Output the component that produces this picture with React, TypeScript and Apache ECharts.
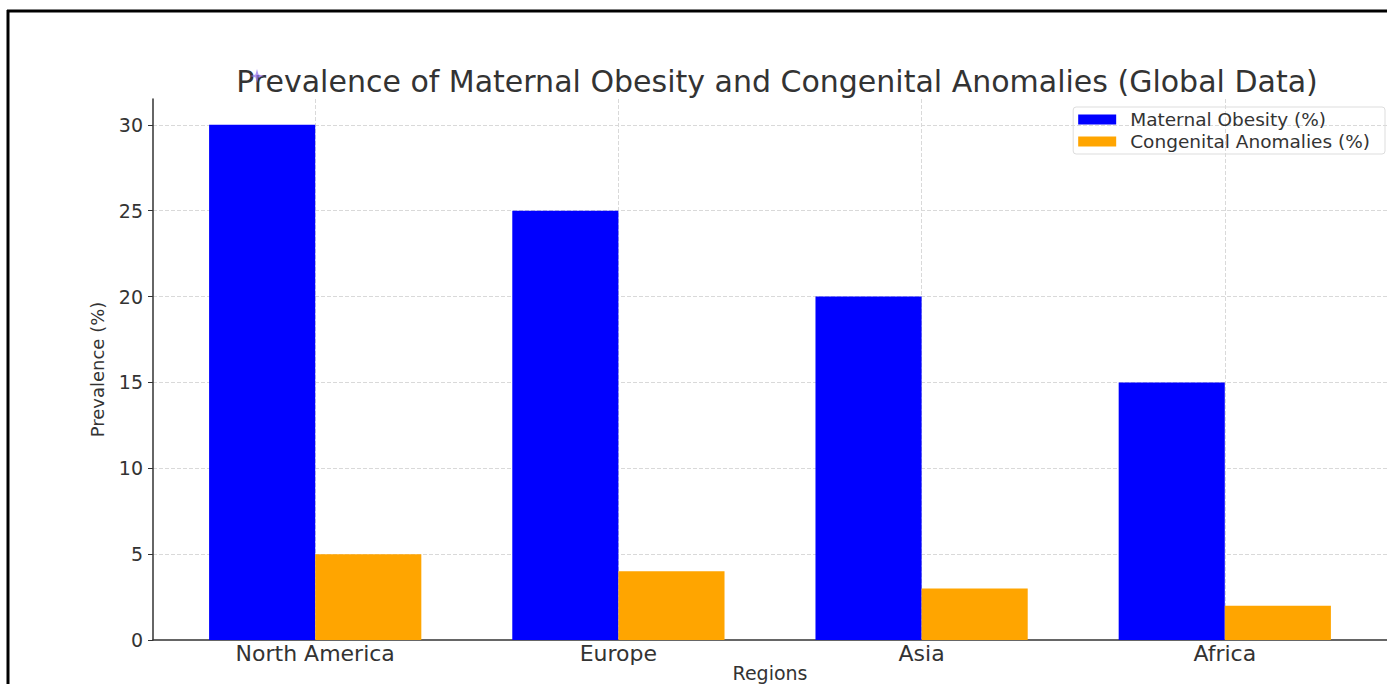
import React, { useEffect, useRef } from "react";
import * as echarts from "echarts";

const categories = ["North America", "Europe", "Asia", "Africa"];
const obesity = [30, 25, 20, 15];
const anomalies = [5, 4, 3, 2];
const seriesNames = ["Maternal Obesity (%)", "Congenital Anomalies (%)"];
const titleText = "Prevalence of Maternal Obesity and Congenital Anomalies (Global Data)";
const FONT = "DejaVu Sans";

export default function App() {
  const ref = useRef<HTMLDivElement>(null);
  useEffect(() => {
    document.body.style.margin = "0";
    const chart = echarts.init(ref.current!, null, { renderer: "svg" });
    const n = categories.length;
    const pad = 0.35 + 0.05 * (n - 1 + 0.7);
    chart.setOption({
      animation: false,
      backgroundColor: "#ffffff",
      title: {
        text: titleText,
        left: 772,
        textAlign: "center",
        top: 61,
        textStyle: { fontFamily: FONT, fontSize: 30, fontWeight: "normal", color: "#333" },
      },
      legend: {
        orient: "vertical",
        right: 2,
        top: 107,
        icon: "rect",
        itemWidth: 38,
        itemHeight: 10,
        itemGap: 3,
        padding: [3, 15, 3, 5],
        borderColor: "#ddd",
        borderWidth: 1,
        borderRadius: 3,
        textStyle: { fontFamily: FONT, fontSize: 18.5, lineHeight: 19, color: "#333", padding: [0, 0, 0, 9] },
        data: seriesNames,
      },
      grid: { left: 153, right: 0, top: 99, bottom: 44, containLabel: false, outerBoundsMode: "none" },
      xAxis: {
        type: "value",
        min: -pad,
        max: n - 1 + pad,
        name: "Regions",
        nameLocation: "middle",
        nameGap: 23,
        nameMoveOverlap: false,
        nameTextStyle: { fontFamily: FONT, fontSize: 19, lineHeight: 19, color: "#333", verticalAlign: "top" },
        axisLine: { show: true, onZero: false, lineStyle: { color: "#333", width: 1.5 } },
        axisTick: { show: false },
        axisLabel: {
          fontFamily: FONT,
          fontSize: 22,
          color: "#333",
          margin: 2,
          formatter: (v: number) => {
            const i = Math.round(v);
            return Math.abs(v - i) < 1e-6 && i >= 0 && i < n ? categories[i] : "";
          },
        },
        splitLine: {
          show: true,
          showMinLine: false,
          showMaxLine: false,
          lineStyle: { color: "#d9d9d9", type: [4, 2], width: 1 },
        },
      },
      yAxis: {
        type: "value",
        min: 0,
        max: 31.5,
        name: "Prevalence (%)",
        nameLocation: "middle",
        nameGap: 47,
        nameMoveOverlap: false,
        nameTextStyle: { fontFamily: FONT, fontSize: 18, color: "#333" },
        axisLine: { show: true, onZero: false, lineStyle: { color: "#333", width: 1.5 } },
        axisTick: { show: true, length: 5, lineStyle: { color: "#333" } },
        axisLabel: {
          fontFamily: FONT,
          fontSize: 19,
          color: "#333",
          margin: 10,
          showMaxLabel: false,
        },
        splitLine: {
          show: true,
          showMinLine: false,
          showMaxLine: false,
          lineStyle: { color: "#d9d9d9", type: [4, 2], width: 1 },
        },
      },
      graphic: [
        { type: "line", shape: { x1: 7, y1: 11, x2: 1387, y2: 11 }, style: { stroke: "#000", lineWidth: 3 } },
        { type: "line", shape: { x1: 8, y1: 10, x2: 8, y2: 684 }, style: { stroke: "#000", lineWidth: 3 } },
        {
          type: "polygon",
          z: 100,
          shape: {
            points: [
              [257, 69], [258.5, 74.5], [264, 76], [258.5, 77.5],
              [257, 83], [255.5, 77.5], [250, 76], [255.5, 74.5],
            ],
          },
          style: { fill: "rgba(150,120,240,0.75)" },
        },
      ],
      series: [
        {
          name: seriesNames[0],
          type: "bar",
          data: obesity.map((v, i) => [i, v]),
          barWidth: "35%",
          barGap: "0%",
          itemStyle: { color: "#0000ff" },
        },
        {
          name: seriesNames[1],
          type: "bar",
          data: anomalies.map((v, i) => [i, v]),
          barWidth: "35%",
          barGap: "0%",
          itemStyle: { color: "#ffa500" },
        },
      ],
    });
    return () => chart.dispose();
  }, []);
  return <div ref={ref} style={{ width: 1387, height: 684 }} />;
}
